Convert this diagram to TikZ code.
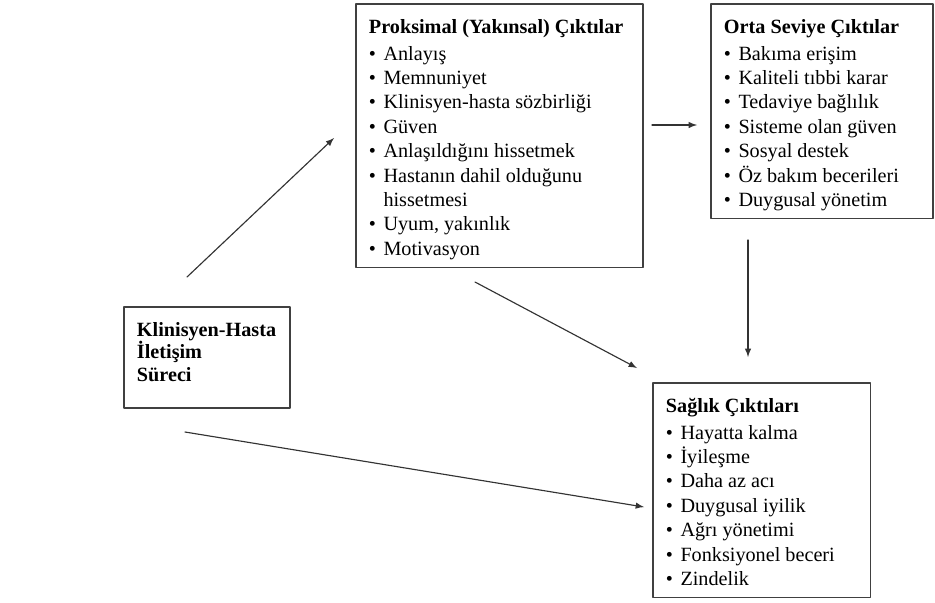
\documentclass[tikz,border=0pt]{standalone}
\usepackage{fontspec}
\setmainfont{Liberation Serif}
\usetikzlibrary{arrows}

\newcommand{\kutuic}[3]{\parbox[t][#2][t]{#1}{\raggedright\lineskiplimit=-20pt\rule{0pt}{11.7pt}#3}}
\newcommand{\mad}{\makebox[0.72em][l]{\textbullet}}
\newcommand{\devam}{\hspace*{0.72em}}

\begin{document}
\begin{tikzpicture}[x=0.02cm,y=-0.02cm,line cap=round,line join=round,>=latex,
  kutu/.style={draw=black!75,line width=0.9pt,fill=white,anchor=north west,inner xsep=7.5pt,inner ysep=5pt,font=\fontsize{11.5}{13.9}\selectfont},
  ok/.style={->,color=black!80,line width=0.65pt}]
\useasboundingbox (0,0) rectangle (935,602);
%\draw[help lines] (0,0) grid[step=50] (935,602);
\node[kutu] (prox) at (355,3) {\kutuic{148.3pt}{140.2pt}{\textbf{Proksimal (Yakınsal) Çıktılar}\\[1.4pt]
\mad Anlayış\\
\mad Memnuniyet\\
\mad Klinisyen-hasta sözbirliği\\
\mad Güven\\
\mad Anlaşıldığını hissetmek\\
\mad Hastanın dahil olduğunu\\
\devam hissetmesi\\
\mad Uyum, yakınlık\\
\mad Motivasyon}};
\node[kutu] (orta) at (710,3) {\kutuic{111.3pt}{112.3pt}{\textbf{Orta Seviye Çıktılar}\\[1.4pt]
\mad Bakıma erişim\\
\mad Kaliteli tıbbi karar\\
\mad Tedaviye bağlılık\\
\mad Sisteme olan güven\\
\mad Sosyal destek\\
\mad Öz bakım becerileri\\
\mad Duygusal yönetim}};
\node[kutu,font=\fontsize{11.5}{12.8}\selectfont] (klin) at (123,306) {\kutuic{79.5pt}{47.5pt}{\textbf{Klinisyen-Hasta}\\
\textbf{İletişim}\\
\textbf{Süreci}}};
\node[kutu] (saglik) at (652,382) {\kutuic{109pt}{112.3pt}{\textbf{Sağlık Çıktıları}\\[1.4pt]
\mad Hayatta kalma\\
\mad İyileşme\\
\mad Daha az acı\\
\mad Duygusal iyilik\\
\mad Ağrı yönetimi\\
\mad Fonksiyonel beceri\\
\mad Zindelik}};
% ok uclari
\coordinate (klinust) at (187,277);
\coordinate (proxsol) at (334,138);
\coordinate (proxsag) at (652,125);
\coordinate (ortasol) at (697,125);
\coordinate (ortaalt) at (748,240);
\coordinate (saglikust) at (748,357);
\coordinate (proxalt) at (475,282);
\coordinate (saglikkose) at (637,368);
\coordinate (klinalt) at (185,432);
\coordinate (sagliksol) at (644,507);
\draw[ok] (klinust) -- (proxsol);
\draw[ok] (proxsag) -- (ortasol);
\draw[ok] (ortaalt) -- (saglikust);
\draw[ok] (proxalt) -- (saglikkose);
\draw[ok] (klinalt) -- (sagliksol);
\end{tikzpicture}
\end{document}
